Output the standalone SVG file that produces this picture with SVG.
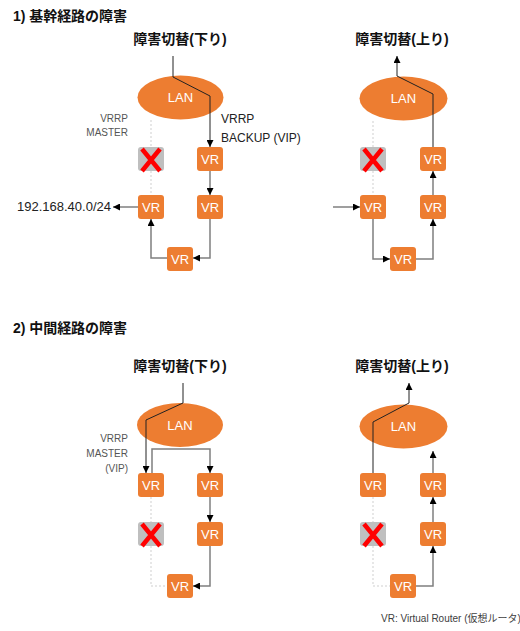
<svg xmlns="http://www.w3.org/2000/svg" width="520" height="631" viewBox="0 0 520 631">
<style>
text{font-family:"Liberation Sans","Noto Sans CJK JP",sans-serif}
.h{font-size:14px;font-weight:bold;fill:#111}
.hc{font-size:14px;font-weight:bold;fill:#111;text-anchor:middle}
.vr{fill:#ED7D31}
.xb{fill:#BFBFBF}
.lan{fill:#ED7D31}
.wt{font-size:13px;fill:#fff;text-anchor:middle}
.xl{stroke:#FF0000;stroke-width:4.5;fill:none}
.c{stroke:#7F7F7F;stroke-width:1.5;fill:none}
.k{stroke:#222;stroke-width:1;fill:none}
.d{stroke:#CFCFCF;stroke-width:1;stroke-dasharray:2,2;fill:none}
.lbl{font-size:12px;fill:#222}
.gl{font-size:10px;fill:#555;text-anchor:end}
</style>
<defs>
<marker id="a" viewBox="0 0 10 10" refX="10" refY="5" markerWidth="7" markerHeight="7" markerUnits="userSpaceOnUse" orient="auto">
<path d="M0,0 L10,5 L0,10 z" fill="#000"/>
</marker>
<g id="vrbox"><rect width="26" height="24" rx="3" class="vr"/><text x="13" y="17" class="wt">VR</text></g>
<g id="xbox"><rect width="26" height="24" rx="3" class="xb"/><path d="M4,2 L22,24 M22,2 L4,24" class="xl"/></g>
</defs>

<text x="13" y="21" class="h" textLength="114" lengthAdjust="spacing">1) 基幹経路の障害</text>
<text x="180" y="44" class="hc">障害切替(下り)</text>
<text x="402" y="44" class="hc">障害切替(上り)</text>
<text x="13" y="333" class="h" textLength="114" lengthAdjust="spacing">2) 中間経路の障害</text>
<text x="180" y="371" class="hc">障害切替(下り)</text>
<text x="402" y="371" class="hc">障害切替(上り)</text>

<text x="128" y="122" class="gl">VRRP</text>
<text x="128" y="136" class="gl">MASTER</text>
<text x="221" y="123" class="lbl">VRRP</text>
<text x="221" y="142" class="lbl">BACKUP (VIP)</text>
<text x="17" y="211" font-size="13" fill="#222">192.168.40.0/24</text>
<text x="128" y="442" class="gl">VRRP</text>
<text x="128" y="457" class="gl">MASTER</text>
<text x="128" y="472" class="gl">(VIP)</text>
<text x="381" y="622" font-size="10" fill="#404040">VR: Virtual Router (仮想ルータ)</text>

<g id="s1-left">
<g id="s1l-lan"><ellipse cx="180.5" cy="97.5" rx="43" ry="22" class="lan"/><text x="180.5" y="102" class="wt">LAN</text></g>
<use id="s1l-x" href="#xbox" x="138" y="147"/>
<use id="s1l-vr1" href="#vrbox" x="197" y="147"/>
<use id="s1l-vr2" href="#vrbox" x="138" y="195"/>
<use id="s1l-vr3" href="#vrbox" x="197" y="195"/>
<use id="s1l-vr4" href="#vrbox" x="167" y="247"/>
</g>
<g id="s1-right">
<g id="s1r-lan"><ellipse cx="403.5" cy="98.5" rx="44" ry="22" class="lan"/><text x="403.5" y="103" class="wt">LAN</text></g>
<use id="s1r-x" href="#xbox" x="360" y="147"/>
<use id="s1r-vr1" href="#vrbox" x="420" y="147"/>
<use id="s1r-vr2" href="#vrbox" x="360" y="195"/>
<use id="s1r-vr3" href="#vrbox" x="420" y="195"/>
<use id="s1r-vr4" href="#vrbox" x="390" y="247"/>
</g>
<g id="s2-left">
<g id="s2l-lan"><ellipse cx="180" cy="425" rx="43" ry="22" class="lan"/><text x="180" y="429.5" class="wt">LAN</text></g>
<use id="s2l-vr1" href="#vrbox" x="138" y="473"/>
<use id="s2l-vr2" href="#vrbox" x="197" y="473"/>
<use id="s2l-x" href="#xbox" x="138" y="522"/>
<use id="s2l-vr3" href="#vrbox" x="197" y="522"/>
<use id="s2l-vr4" href="#vrbox" x="167" y="574"/>
</g>
<g id="s2-right">
<g id="s2r-lan"><ellipse cx="403.5" cy="426.5" rx="44" ry="22" class="lan"/><text x="403.5" y="431" class="wt">LAN</text></g>
<use id="s2r-vr1" href="#vrbox" x="360" y="473"/>
<use id="s2r-vr2" href="#vrbox" x="420" y="473"/>
<use id="s2r-x" href="#xbox" x="360" y="522"/>
<use id="s2r-vr3" href="#vrbox" x="420" y="522"/>
<use id="s2r-vr4" href="#vrbox" x="390" y="574"/>
</g>

<g id="connectors">
<path d="M151,120 V147 M151,171 V195" class="d"/>
<path d="M173,56 V77 L210,96 V147" class="k" marker-end="url(#a)"/>
<path d="M210,171 V195" class="c" marker-end="url(#a)"/>
<path d="M210,219 V258 H193" class="c" marker-end="url(#a)"/>
<path d="M167,258 H151 V219" class="c" marker-end="url(#a)"/>
<path d="M138,207 H113" class="c" marker-end="url(#a)"/>

<path d="M373,121 V147 M373,171 V195" class="d"/>
<path d="M433,147 V94 L397,76 V56" class="k" marker-end="url(#a)"/>
<path d="M333,207 H360" class="c" marker-end="url(#a)"/>
<path d="M373,219 V259 H390" class="c" marker-end="url(#a)"/>
<path d="M416,259 H433 V219" class="c" marker-end="url(#a)"/>
<path d="M433,195 V171" class="c" marker-end="url(#a)"/>

<path d="M151,497 V522 M151,546 V586 H167" class="d"/>
<path d="M183,383 V403 L146,420 V473" class="k" marker-end="url(#a)"/>
<path d="M152,473 V449 H210 V473" class="c" marker-end="url(#a)"/>
<path d="M210,497 V522" class="c" marker-end="url(#a)"/>
<path d="M210,546 V586 H193" class="c" marker-end="url(#a)"/>

<path d="M373,497 V522 M373,546 V586 H390" class="d"/>
<path d="M373,473 V422 L409,403 V383" class="k" marker-end="url(#a)"/>
<path d="M433,473 V451" class="c" marker-end="url(#a)"/>
<path d="M433,522 V497" class="c" marker-end="url(#a)"/>
<path d="M416,586 H433 V546" class="c" marker-end="url(#a)"/>
</g>
</svg>
